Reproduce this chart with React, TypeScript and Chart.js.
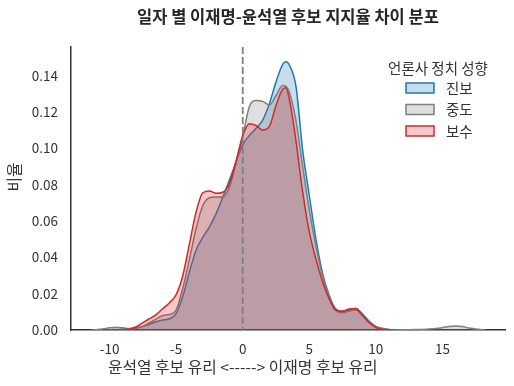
import { useEffect, useRef } from "react";
import { Chart, registerables } from "chart.js";

Chart.register(...registerables);

const FONT = "'Noto Sans CJK KR', 'Noto Sans', sans-serif";

const chartTitle = "일자 별 이재명-윤석열 후보 지지율 차이 분포";
const xAxisTitle = "윤석열 후보 유리 <-----> 이재명 후보 유리";
const yAxisTitle = "비율";
const legendTitle = "언론사 정치 성향";
const seriesNames = ["진보", "중도", "보수"];

const xGrid = [
  -11.4, -11, -10.5, -10, -9.5, -9, -8.5, -8, -7.5, -7, -6.5, -6, -5.5, -5, -4.5, -4, -3.5, -3, -2.5, -2,
  -1.5, -1, -0.5, 0, 0.5, 1, 1.5, 2, 2.5, 3, 3.25, 3.5, 4, 4.5, 5, 5.5, 6, 6.5, 7, 7.5,
  8, 8.5, 9, 9.5, 10, 10.5, 11, 11.5, 12, 13, 14, 15, 15.5, 16, 16.5, 17, 17.5, 18.2,
];

const progressive = [
  null, null, 0.0, 0.0002, 0.0003, 0.0004, 0.0006, 0.0012, 0.002, 0.0032, 0.0045, 0.0055, 0.0062, 0.009, 0.0185, 0.032, 0.044, 0.051, 0.0568, 0.064,
  0.073, 0.0825, 0.0925, 0.102, 0.107, 0.111, 0.1155, 0.1245, 0.1365, 0.1462, 0.1476, 0.1458, 0.134, 0.099, 0.074, 0.05, 0.031, 0.019, 0.0115, 0.0101,
  0.011, 0.0118, 0.0088, 0.0048, 0.002, 0.0008, 0.0002, 0.0, null, null, null, null, null, null, null, null, null, null,
];

const moderate = [
  0.0, 0.0002, 0.0006, 0.0012, 0.0015, 0.0012, 0.0008, 0.001, 0.002, 0.004, 0.006, 0.008, 0.0085, 0.011, 0.023, 0.039, 0.056, 0.0685, 0.0728, 0.0732,
  0.0732, 0.0785, 0.092, 0.1065, 0.123, 0.1262, 0.1258, 0.1238, 0.129, 0.1345, 0.134, 0.131, 0.115, 0.09, 0.066, 0.046, 0.0295, 0.018, 0.0108, 0.0095,
  0.0105, 0.011, 0.0078, 0.0042, 0.0018, 0.0008, 0.0003, 0.0002, 0.0002, 0.0003, 0.0006, 0.0013, 0.0019, 0.0022, 0.0019, 0.0011, 0.0005, 0.0,
];

const conservative = [
  null, null, 0.0, 0.0002, 0.0002, 0.0003, 0.0006, 0.0018, 0.004, 0.0062, 0.0085, 0.0118, 0.015, 0.0195, 0.03, 0.0475, 0.065, 0.0755, 0.0765, 0.0752,
  0.0758, 0.0805, 0.093, 0.107, 0.1135, 0.1125, 0.11, 0.112, 0.1235, 0.1325, 0.1333, 0.127, 0.104, 0.076, 0.054, 0.039, 0.0265, 0.017, 0.0108, 0.0104,
  0.0115, 0.0118, 0.008, 0.004, 0.0014, 0.0004, 0.0001, 0.0, null, null, null, null, null, null, null, null, null, null,
];

const xTicks = [-10, -5, 0, 5, 10, 15];
const yTicks = [0, 0.02, 0.04, 0.06, 0.08, 0.1, 0.12, 0.14];
const xRange = [-12.9, 19.7];
const yRange = [0, 0.1557];
const referenceX = 0;

const lineColors = ["#1f77b4", "#7f7f7f", "#d62728"];
const fillColors = ["rgba(31,119,180,0.25)", "rgba(127,127,127,0.25)", "rgba(214,39,40,0.25)"];

const toPoints = (vals: (number | null)[]) => xGrid.map((x, i) => ({ x, y: vals[i] }));

const overlayPlugin = {
  id: "overlay",
  afterDatasetsDraw(chart: any) {
    const { ctx, chartArea, scales } = chart;
    const px = scales.x.getPixelForValue(referenceX);
    ctx.save();
    ctx.strokeStyle = "#808080";
    ctx.lineWidth = 1.8;
    ctx.setLineDash([7, 3]);
    ctx.beginPath();
    ctx.moveTo(px, chartArea.top);
    ctx.lineTo(px, chartArea.bottom);
    ctx.stroke();
    ctx.restore();
  },
  afterDraw(chart: any) {
    const { ctx, chartArea } = chart;
    ctx.save();
    ctx.fillStyle = "#262626";
    ctx.textBaseline = "middle";
    // Title
    ctx.textAlign = "center";
    ctx.font = `bold 16.5px ${FONT}`;
    ctx.fillText(chartTitle, (chartArea.left + chartArea.right) / 2, 17);
    // X axis title
    ctx.font = `15.8px ${FONT}`;
    ctx.fillStyle = "#333";
    ctx.fillText(xAxisTitle, chart.scales.x.getPixelForValue(referenceX), 367);
    // Y axis title
    ctx.save();
    ctx.translate(14, 177);
    ctx.rotate(-Math.PI / 2);
    ctx.fillText(yAxisTitle, 0, 0);
    ctx.restore();
    // Legend
    ctx.font = `14.5px ${FONT}`;
    ctx.fillText(legendTitle, 438, 68);
    ctx.textAlign = "left";
    const rowY = [88, 109.5, 131];
    seriesNames.forEach((name, i) => {
      const y = rowY[i];
      ctx.fillStyle = "#fff";
      ctx.fillRect(406, y - 5, 28, 10);
      ctx.fillStyle = fillColors[i];
      ctx.fillRect(406, y - 5, 28, 10);
      ctx.strokeStyle = lineColors[i];
      ctx.lineWidth = 1.5;
      ctx.strokeRect(406, y - 5, 28, 10);
      ctx.fillStyle = "#333";
      ctx.fillText(name, 446, y);
    });
    ctx.restore();
  },
};

export default function App() {
  const canvasRef = useRef<HTMLCanvasElement | null>(null);

  useEffect(() => {
    document.body.style.margin = "0";
    Chart.defaults.font.family = FONT;
    const canvas = canvasRef.current;
    if (!canvas) return;
    const order = [3, 2, 1];
    const chart = new Chart(canvas, {
      type: "line",
      data: {
        datasets: [progressive, moderate, conservative].map((vals, i) => ({
          label: seriesNames[i],
          data: toPoints(vals),
          borderColor: lineColors[i],
          backgroundColor: fillColors[i],
          borderWidth: 1.5,
          fill: "origin",
          pointRadius: 0,
          cubicInterpolationMode: "monotone",
          spanGaps: false,
          order: order[i],
        })),
      },
      options: {
        animation: false,
        responsive: true,
        maintainAspectRatio: false,
        layout: { padding: { left: 0, top: 47, right: 9, bottom: 0 } },
        plugins: { legend: { display: false }, title: { display: false }, tooltip: { enabled: false } },
        scales: {
          x: {
            type: "linear",
            min: xRange[0],
            max: xRange[1],
            afterBuildTicks: (scale: any) => {
              scale.ticks = xTicks.map((v) => ({ value: v }));
            },
            afterFit: (scale: any) => {
              scale.height = 56;
            },
            grid: { display: true, drawOnChartArea: false, drawTicks: false, color: "rgba(0,0,0,0)" },
            border: { display: true, color: "#333", width: 1.5 },
            ticks: {
              padding: 11,
              color: "#333",
              font: { size: 13.5, family: FONT },
              callback: (v: any) => String(v),
              maxRotation: 0,
              autoSkip: false,
            },
          },
          y: {
            type: "linear",
            min: yRange[0],
            max: yRange[1],
            afterBuildTicks: (scale: any) => {
              scale.ticks = yTicks.map((v) => ({ value: v }));
            },
            afterFit: (scale: any) => {
              scale.width = 71;
            },
            grid: { display: true, drawOnChartArea: false, drawTicks: false, color: "rgba(0,0,0,0)" },
            border: { display: true, color: "#333", width: 1.5 },
            ticks: {
              padding: 13,
              color: "#333",
              font: { size: 13.5, family: FONT },
              callback: (v: any) => Number(v).toFixed(2),
              autoSkip: false,
            },
          },
        },
      },
      plugins: [overlayPlugin],
    } as any);
    return () => chart.destroy();
  }, []);

  return (
    <div style={{ position: "absolute", left: 0, top: 0, width: 514, height: 386 }}>
      <canvas ref={canvasRef} />
    </div>
  );
}
